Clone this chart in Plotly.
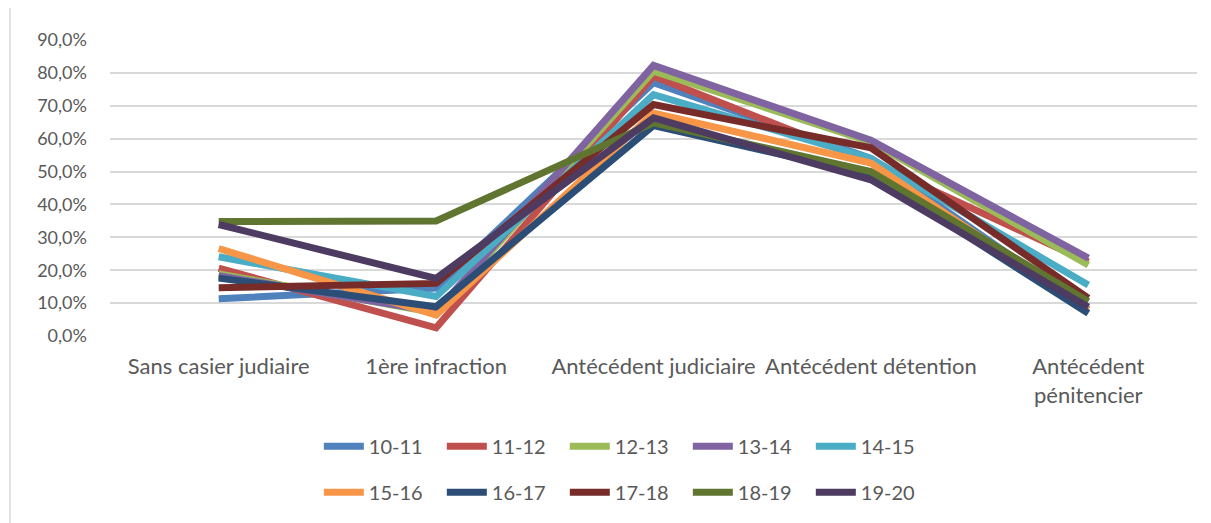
import plotly.graph_objects as go

categories = ["Sans casier judiaire", "1ère infraction", "Antécédent judiciaire",
              "Antécédent détention", "Antécédent<br>pénitencier"]
series_names = ["10-11", "11-12", "12-13", "13-14", "14-15",
                "15-16", "16-17", "17-18", "18-19", "19-20"]
s_10_11 = [11.3, 14.6, 77.0, 54.0, 8.0]
s_11_12 = [20.6, 2.5, 79.0, 53.0, 22.5]
s_12_13 = [18.9, 7.0, 80.5, 59.0, 21.6]
s_13_14 = [18.3, 7.4, 82.3, 59.5, 23.7]
s_14_15 = [24.1, 12.0, 73.4, 54.0, 15.5]
s_15_16 = [26.6, 6.4, 67.8, 52.6, 8.0]
s_16_17 = [17.6, 8.9, 64.0, 49.0, 6.9]
s_17_18 = [14.7, 16.0, 70.4, 57.2, 11.5]
s_18_19 = [34.8, 35.0, 64.8, 50.0, 10.5]
s_19_20 = [33.9, 17.5, 66.3, 47.5, 8.8]
series_values = [s_10_11, s_11_12, s_12_13, s_13_14, s_14_15,
                 s_15_16, s_16_17, s_17_18, s_18_19, s_19_20]
colors = ["#4F81BD", "#C0504D", "#9BBB59", "#8064A2", "#4BACC6",
          "#F79646", "#2C4D75", "#772C2A", "#5F7530", "#4D3B62"]
y_ticks = [0, 0.1, 0.2, 0.3, 0.4, 0.5, 0.6, 0.7, 0.8, 0.9]

FONT = "Lato, 'Open Sans', sans-serif"
TXT = "#595959"

fig = go.Figure()
for i, (name, vals, col) in enumerate(zip(series_names, series_values, colors)):
    fig.add_trace(go.Scatter(
        x=categories, y=[v / 100 for v in vals], name=name, mode="lines",
        line=dict(color=col, width=7),
        legend="legend" if i < 5 else "legend2",
    ))

fig.update_layout(
    width=1211, height=523,
    margin=dict(l=102, r=22, t=32, b=195, autoexpand=False),
    paper_bgcolor="white", plot_bgcolor="white",
    separators=", ",
    font=dict(family=FONT, size=18, color=TXT),
    showlegend=True,
    legend=dict(orientation="h", x=0.475, xanchor="center", y=-0.307, yanchor="top",
                font=dict(size=20, color=TXT), entrywidth=68, entrywidthmode="pixels",
                itemwidth=40, bgcolor="rgba(0,0,0,0)"),
    legend2=dict(orientation="h", x=0.475, xanchor="center", y=-0.462, yanchor="top",
                 font=dict(size=20, color=TXT), entrywidth=68, entrywidthmode="pixels",
                 itemwidth=40, bgcolor="rgba(0,0,0,0)"),
    xaxis=dict(type="category", showgrid=False, showline=False, zeroline=False,
               ticks="", tickfont=dict(size=22, color=TXT), ticklabelstandoff=15,
               range=[-0.5, 4.5], automargin=False),
    yaxis=dict(range=[0, 0.9], tickvals=y_ticks, tickformat=".1%",
               showgrid=True, gridcolor="#d9d9d9", gridwidth=1.5,
               zeroline=False, showline=False, ticks="",
               tickfont=dict(size=18, color=TXT), ticklabelstandoff=22,
               automargin=False),
    shapes=[dict(type="line", xref="paper", yref="paper",
                 x0=-0.092, x1=-0.092, y0=-0.72, y1=1.14,
                 line=dict(color="#d9d9d9", width=1.5))],
)

fig.write_html("out.html")
